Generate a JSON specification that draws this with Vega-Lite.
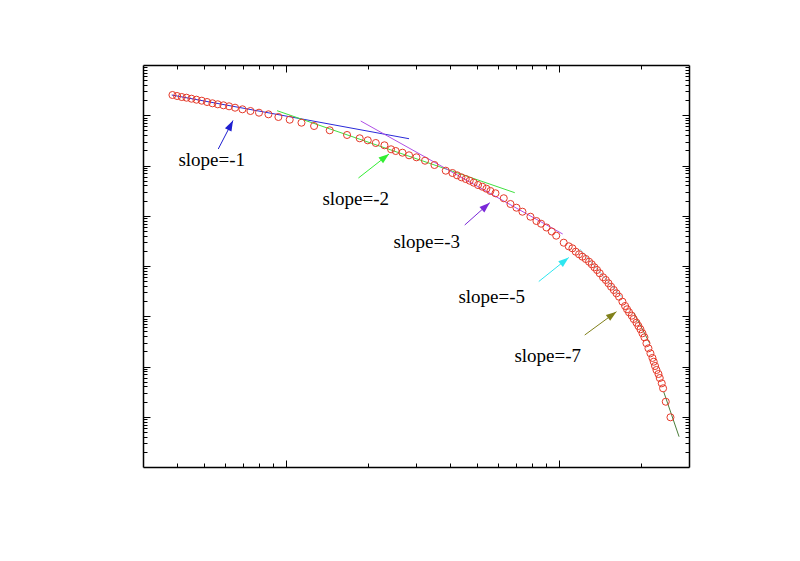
{
  "$schema": "https://vega.github.io/schema/vega-lite/v6.json",
  "width": 546,
  "height": 402,
  "autosize": "none",
  "padding": {"left": 143, "top": 65, "right": 111, "bottom": 94},
  "background": "white",
  "config": {
    "view": {"stroke": null},
    "axis": {"labels": false, "grid": false, "domainColor": "#000", "domainWidth": 1.5, "tickColor": "#000", "tickWidth": 1}
  },
  "datasets": {
    "points": [
      {"x": 0.3846, "y": 2.529}, {"x": 0.4, "y": 2.416}, {"x": 0.4159, "y": 2.307}, {"x": 0.4329, "y": 2.235},
      {"x": 0.4515, "y": 2.135}, {"x": 0.4709, "y": 2.04}, {"x": 0.4924, "y": 1.948}, {"x": 0.5149, "y": 1.835},
      {"x": 0.5389, "y": 1.729}, {"x": 0.5635, "y": 1.652}, {"x": 0.5913, "y": 1.578}, {"x": 0.6199, "y": 1.507},
      {"x": 0.6521, "y": 1.413}, {"x": 0.694, "y": 1.313}, {"x": 0.7425, "y": 1.215}, {"x": 0.798, "y": 1.124},
      {"x": 0.8642, "y": 1.044}, {"x": 0.94, "y": 0.923}, {"x": 1.034, "y": 0.815}, {"x": 1.142, "y": 0.711},
      {"x": 1.27, "y": 0.611}, {"x": 1.449, "y": 0.502}, {"x": 1.677, "y": 0.405}, {"x": 1.866, "y": 0.348},
      {"x": 1.997, "y": 0.317}, {"x": 2.137, "y": 0.2805}, {"x": 2.299, "y": 0.2523}, {"x": 2.431, "y": 0.2101},
      {"x": 2.528, "y": 0.1943}, {"x": 2.676, "y": 0.1798}, {"x": 2.829, "y": 0.1596}, {"x": 3.011, "y": 0.1456},
      {"x": 3.237, "y": 0.1246}, {"x": 3.505, "y": 0.1023}, {"x": 3.856, "y": 0.0788}, {"x": 4.079, "y": 0.0709},
      {"x": 4.241, "y": 0.0638}, {"x": 4.401, "y": 0.0582}, {"x": 4.563, "y": 0.0539}, {"x": 4.72, "y": 0.0498},
      {"x": 4.882, "y": 0.0455}, {"x": 5.062, "y": 0.0409}, {"x": 5.253, "y": 0.0378}, {"x": 5.434, "y": 0.0345},
      {"x": 5.62, "y": 0.0311}, {"x": 5.864, "y": 0.028}, {"x": 6.289, "y": 0.0223}, {"x": 6.655, "y": 0.01713},
      {"x": 7.0, "y": 0.01446}, {"x": 7.362, "y": 0.01204}, {"x": 7.876, "y": 0.00957}, {"x": 8.285, "y": 0.00786},
      {"x": 8.613, "y": 0.00695}, {"x": 9.014, "y": 0.00584}, {"x": 9.427, "y": 0.00486}, {"x": 9.79, "y": 0.00401},
      {"x": 10.43, "y": 0.00291}, {"x": 10.88, "y": 0.002466}, {"x": 11.22, "y": 0.00225}, {"x": 11.54, "y": 0.001926},
      {"x": 11.87, "y": 0.001709}, {"x": 12.21, "y": 0.001531}, {"x": 12.56, "y": 0.001378}, {"x": 12.91, "y": 0.001218},
      {"x": 13.21, "y": 0.001081}, {"x": 13.51, "y": 0.000942}, {"x": 13.81, "y": 0.000833}, {"x": 14.13, "y": 0.000716},
      {"x": 14.53, "y": 0.000596}, {"x": 14.87, "y": 0.000527}, {"x": 15.21, "y": 0.000453}, {"x": 15.55, "y": 0.000387},
      {"x": 15.91, "y": 0.000333}, {"x": 16.27, "y": 0.000286}, {"x": 16.63, "y": 0.000245}, {"x": 17.11, "y": 0.000195},
      {"x": 17.5, "y": 0.00016}, {"x": 17.79, "y": 0.0001375}, {"x": 18.09, "y": 0.0001199}, {"x": 18.51, "y": 0.0001026},
      {"x": 18.82, "y": 0.0000882}, {"x": 19.26, "y": 0.0000744}, {"x": 19.58, "y": 0.000064}, {"x": 19.92, "y": 0.000055},
      {"x": 20.26, "y": 0.0000458}, {"x": 20.6, "y": 0.0000381}, {"x": 20.95, "y": 0.000029}, {"x": 21.31, "y": 0.000023},
      {"x": 21.67, "y": 0.0000183}, {"x": 22.04, "y": 0.0000148}, {"x": 22.28, "y": 0.00001246}, {"x": 22.53, "y": 0.00001023},
      {"x": 22.8, "y": 0.00000852}, {"x": 23.19, "y": 0.00000709}, {"x": 23.44, "y": 0.0000059}, {"x": 23.84, "y": 0.00000463},
      {"x": 24.11, "y": 0.00000368}, {"x": 24.66, "y": 0.00000199}, {"x": 25.66, "y": 0.000000975}
    ],
    "fits": [
      {"seg": "slope=-1", "part": "p1", "x": 0.3823, "y": 2.526},
      {"seg": "slope=-1", "part": "p1", "x": 2.829, "y": 0.3414},
      {"seg": "slope=-2", "part": "p2", "x": 0.9293, "y": 1.232},
      {"seg": "slope=-2", "part": "p2", "x": 6.901, "y": 0.02875},
      {"seg": "slope=-3", "part": "p3", "x": 1.882, "y": 0.7686},
      {"seg": "slope=-3", "part": "p3", "x": 10.34, "y": 0.004333},
      {"seg": "slope=-5", "part": "p4", "x": 11.94, "y": 0.00218},
      {"seg": "slope=-5", "part": "p4", "x": 17.01, "y": 0.0002416},
      {"seg": "slope=-7", "part": "p5", "x": 18.83, "y": 0.0001177},
      {"seg": "slope=-7", "part": "p5", "x": 21.54, "y": 0.00002895},
      {"seg": "slope=-7", "part": "p6", "x": 24.25, "y": 0.000003108},
      {"seg": "slope=-7", "part": "p6", "x": 27.59, "y": 0.0000004009}
    ],
    "notes": [
      {"label": "slope=-1", "tx": 0.566, "ty": 0.213, "hx": 0.641, "hy": 0.786, "lx": 0.5357, "ly": 0.0977},
      {"label": "slope=-2", "tx": 1.846, "ty": 0.05639, "hx": 2.39, "hy": 0.1694, "lx": 1.805, "ly": 0.01637},
      {"label": "slope=-3", "tx": 4.525, "ty": 0.006545, "hx": 5.588, "hy": 0.01818, "lx": 3.285, "ly": 0.002282},
      {"label": "slope=-5", "tx": 8.45, "ty": 0.0004915, "hx": 10.88, "hy": 0.001476, "lx": 5.683, "ly": 0.0001835},
      {"label": "slope=-7", "tx": 12.45, "ty": 0.00004234, "hx": 16.27, "hy": 0.0001232, "lx": 9.114, "ly": 0.00001229}
    ]
  },
  "layer": [
    {
      "data": {"name": "fits"},
      "mark": {"type": "line", "strokeWidth": 1},
      "encoding": {
        "x": {"field": "x", "type": "quantitative", "scale": {"type": "log", "domain": [0.3, 30], "nice": false},
          "axis": {"orient": "top", "title": null, "values": [0.4, 0.5, 0.6, 0.7, 0.8, 0.9, 1, 2, 3, 4, 5, 6, 7, 8, 9, 10, 20],
            "tickSize": {"condition": {"test": "abs(log(datum.value)/LN10 - round(log(datum.value)/LN10)) < 0.001", "value": -7}, "value": -4}}},
        "y": {"field": "y", "type": "quantitative", "scale": {"type": "log", "domain": [0.0000001, 10], "nice": false},
          "axis": {"orient": "right", "title": null,
            "values": [2e-7, 3e-7, 4e-7, 5e-7, 6e-7, 7e-7, 8e-7, 9e-7, 1e-6, 2e-6, 3e-6, 4e-6, 5e-6, 6e-6, 7e-6, 8e-6, 9e-6, 1e-5, 2e-5, 3e-5, 4e-5, 5e-5, 6e-5, 7e-5, 8e-5, 9e-5, 1e-4, 2e-4, 3e-4, 4e-4, 5e-4, 6e-4, 7e-4, 8e-4, 9e-4, 0.001, 0.002, 0.003, 0.004, 0.005, 0.006, 0.007, 0.008, 0.009, 0.01, 0.02, 0.03, 0.04, 0.05, 0.06, 0.07, 0.08, 0.09, 0.1, 0.2, 0.3, 0.4, 0.5, 0.6, 0.7, 0.8, 0.9, 1, 2, 3, 4, 5, 6, 7, 8, 9],
            "tickSize": {"condition": {"test": "abs(log(datum.value)/LN10 - round(log(datum.value)/LN10)) < 0.001", "value": -7}, "value": -4}}},
        "detail": {"field": "part", "type": "nominal"},
        "color": {"field": "seg", "type": "nominal", "legend": null,
          "scale": {"domain": ["slope=-1", "slope=-2", "slope=-3", "slope=-5", "slope=-7"], "range": ["#2a2ad8", "#40e040", "#b050e6", "#88d8ea", "#4b7d3a"]}}
      }
    },
    {
      "data": {"name": "points"},
      "mark": {"type": "point", "shape": "circle", "filled": false, "size": 50, "strokeWidth": 1, "color": "#e53a2a", "opacity": 1},
      "encoding": {
        "x": {"field": "x", "type": "quantitative", "scale": {"type": "log", "domain": [0.3, 30], "nice": false},
          "axis": {"orient": "bottom", "title": null, "values": [0.4, 0.5, 0.6, 0.7, 0.8, 0.9, 1, 2, 3, 4, 5, 6, 7, 8, 9, 10, 20],
            "tickSize": {"condition": {"test": "abs(log(datum.value)/LN10 - round(log(datum.value)/LN10)) < 0.001", "value": -7}, "value": -4}}},
        "y": {"field": "y", "type": "quantitative", "scale": {"type": "log", "domain": [0.0000001, 10], "nice": false},
          "axis": {"orient": "left", "title": null,
            "values": [2e-7, 3e-7, 4e-7, 5e-7, 6e-7, 7e-7, 8e-7, 9e-7, 1e-6, 2e-6, 3e-6, 4e-6, 5e-6, 6e-6, 7e-6, 8e-6, 9e-6, 1e-5, 2e-5, 3e-5, 4e-5, 5e-5, 6e-5, 7e-5, 8e-5, 9e-5, 1e-4, 2e-4, 3e-4, 4e-4, 5e-4, 6e-4, 7e-4, 8e-4, 9e-4, 0.001, 0.002, 0.003, 0.004, 0.005, 0.006, 0.007, 0.008, 0.009, 0.01, 0.02, 0.03, 0.04, 0.05, 0.06, 0.07, 0.08, 0.09, 0.1, 0.2, 0.3, 0.4, 0.5, 0.6, 0.7, 0.8, 0.9, 1, 2, 3, 4, 5, 6, 7, 8, 9],
            "tickSize": {"condition": {"test": "abs(log(datum.value)/LN10 - round(log(datum.value)/LN10)) < 0.001", "value": -7}, "value": -4}}}
      }
    },
    {
      "data": {"name": "notes"},
      "mark": {"type": "rule", "strokeWidth": 1},
      "encoding": {
        "x": {"field": "tx", "type": "quantitative", "scale": {"type": "log", "domain": [0.3, 30], "nice": false}, "axis": null},
        "y": {"field": "ty", "type": "quantitative", "scale": {"type": "log", "domain": [0.0000001, 10], "nice": false}, "axis": null},
        "x2": {"field": "hx"},
        "y2": {"field": "hy"},
        "color": {"field": "label", "type": "nominal", "legend": null,
          "scale": {"domain": ["slope=-1", "slope=-2", "slope=-3", "slope=-5", "slope=-7"], "range": ["#1f1fd0", "#33ee33", "#7a28d8", "#2ee6f0", "#80801a"]}}
      }
    },
    {
      "data": {"name": "notes"},
      "mark": {"type": "point", "shape": "M0,0L-0.7,2L0.7,2Z", "filled": true, "size": 110, "opacity": 1, "strokeWidth": 0,
        "angle": {"expr": "atan2(scale('x', datum.hx) - scale('x', datum.tx), scale('y', datum.ty) - scale('y', datum.hy)) * 180 / PI"}},
      "encoding": {
        "x": {"field": "hx", "type": "quantitative", "scale": {"type": "log", "domain": [0.3, 30], "nice": false}, "axis": null},
        "y": {"field": "hy", "type": "quantitative", "scale": {"type": "log", "domain": [0.0000001, 10], "nice": false}, "axis": null},
        "color": {"field": "label", "type": "nominal", "legend": null,
          "scale": {"domain": ["slope=-1", "slope=-2", "slope=-3", "slope=-5", "slope=-7"], "range": ["#1f1fd0", "#33ee33", "#7a28d8", "#2ee6f0", "#80801a"]}}
      }
    },
    {
      "data": {"name": "notes"},
      "mark": {"type": "text", "font": "Liberation Serif", "fontSize": 19, "align": "center", "baseline": "alphabetic", "color": "#000"},
      "encoding": {
        "x": {"field": "lx", "type": "quantitative", "scale": {"type": "log", "domain": [0.3, 30], "nice": false}, "axis": null},
        "y": {"field": "ly", "type": "quantitative", "scale": {"type": "log", "domain": [0.0000001, 10], "nice": false}, "axis": null},
        "text": {"field": "label", "type": "nominal"}
      }
    }
  ],
  "resolve": {"axis": {"x": "independent", "y": "independent"}, "scale": {"color": "independent"}}
}
